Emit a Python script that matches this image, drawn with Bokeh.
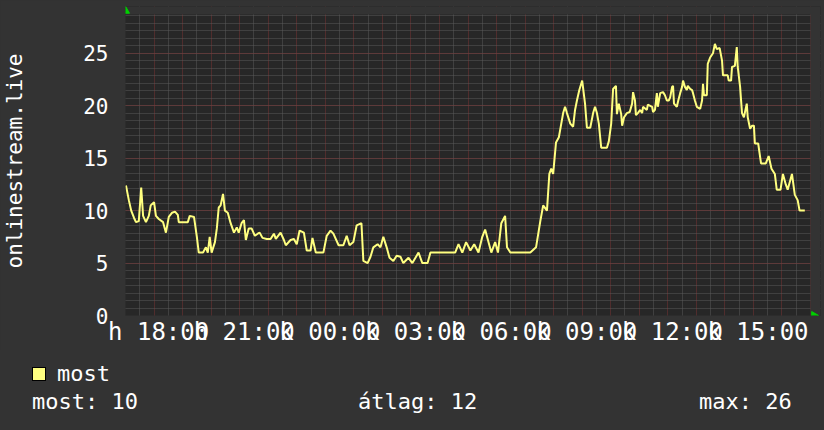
import math
from bokeh.plotting import figure
from bokeh.layouts import column
from bokeh.models import FixedTicker, Range1d, ColumnDataSource, Div
from bokeh.embed import file_html
from bokeh.resources import INLINE

# ---- data ----
start_hour = 17  # h 17:00
end_hour = 41    # k 17:00
minutes = [1,7,12,18,22,28,33,37,43,49,
           53,60,64,70,79,85,91,98,104,110,
           112,125,131,135,144,150,154,163,169,173,
           177,181,188,192,196,200,205,209,215,221,
           228,234,238,244,249,253,259,265,272,278,
           282,288,297,305,312,316,326,333,337,347,
           354,360,366,375,381,389,393,400,416,423,
           431,437,448,458,465,471,479,486,496,500,
           509,515,521,530,536,542,549,555,563,570,
           578,584,595,603,616,624,635,641,662,683,
           693,700,708,716,725,733,742,750,756,763,
           769,777,783,790,798,802,809,830,851,863,
           872,878,886,891,895,899,905,911,920,924,
           928,935,941,945,949,954,960,966,970,977,
           983,987,991,995,1000,1012,1016,1021,1025,1031,
           1033,1037,1042,1044,1048,1054,1060,1065,1067,1071,
           1073,1077,1082,1086,1088,1096,1098,1107,1109,1113,
           1117,1119,1124,1130,1134,1138,1142,1145,1149,1151,
           1153,1159,1162,1166,1170,1172,1176,1180,1182,1187,
           1191,1193,1197,1201,1208,1212,1214,1216,1222,1224,
           1229,1235,1239,1243,1249,1254,1256,1266,1268,1273,
           1275,1281,1285,1287,1292,1296,1300,1306,1308,1313,
           1317,1321,1323,1330,1336,1346,1352,1358,1365,1369,
           1377,1382,1388,1392,1401,1407,1413,1417,1428]
most = [12.4,11.0,10.0,9.3,8.9,9.0,12.2,9.5,8.9,9.5,
        10.5,10.8,9.5,9.2,8.9,7.9,9.4,9.8,9.9,9.6,
        8.9,8.9,8.9,9.5,9.4,7.5,6.0,6.0,6.5,6.0,
        7.5,6.0,7.0,8.3,10.3,10.5,11.6,10.0,9.8,8.8,
        7.9,8.4,7.9,8.8,9.1,7.2,8.3,8.3,7.6,7.8,
        7.9,7.4,7.3,7.3,7.8,7.3,7.9,7.2,6.7,7.2,
        7.3,6.8,8.1,7.9,6.2,6.2,7.4,6.0,6.0,7.6,
        8.1,7.8,6.7,6.7,7.6,6.7,7.0,8.6,8.8,5.2,
        5.0,5.6,6.5,6.8,6.5,7.5,6.5,5.5,5.2,5.7,
        5.6,5.0,5.5,5.0,6.0,5.0,5.0,6.0,6.0,6.0,
        6.0,6.8,6.0,7.0,6.2,6.8,6.0,7.5,8.2,7.0,
        6.0,7.0,6.0,8.8,9.5,6.5,6.0,6.0,6.0,6.5,
        9.0,10.5,10.0,13.5,14.0,13.5,16.5,17.0,19.3,19.9,
        19.3,18.3,18.0,19.6,20.5,21.5,22.4,20.2,17.9,17.9,
        19.3,19.9,19.3,18.3,16.0,16.0,16.6,18.3,21.6,21.9,
        19.2,20.2,19.2,18.1,18.9,19.3,19.4,20.2,21.3,20.5,
        19.1,19.3,19.6,19.3,19.9,19.6,20.1,19.9,19.4,19.6,
        21.2,19.9,21.2,21.3,21.0,20.5,20.5,20.8,21.8,21.9,
        20.2,19.9,20.5,21.2,21.8,22.4,21.8,21.5,21.9,21.6,
        21.5,21.2,20.5,19.9,19.7,20.5,22.1,21.0,21.0,24.0,
        24.6,25.0,25.9,25.4,25.5,24.3,22.9,22.9,22.4,22.4,
        23.7,23.8,25.6,23.7,21.8,19.3,18.9,20.2,18.9,17.8,
        18.1,18.1,16.4,16.4,14.5,14.5,15.2,14.0,13.5,12.0,
        12.0,13.5,12.5,12.0,13.5,11.5,11.0,10.0,10.0]

x_tick_hours = [18, 21, 24, 27, 30, 33, 36, 39]
x_tick_labels = ["h 18:00", "h 21:00", "k 00:00", "k 03:00",
                 "k 06:00", "k 09:00", "k 12:00", "k 15:00"]
y_ticks = [0, 5, 10, 15, 20, 25]
y_top = 28.7
y_title = "onlinestream.live"
series_name = "most"
legend_stats = [("most", "10"), ("átlag", "12"), ("max", "26")]

# ---- styling ----
BG = "#333333"
PLOT_BG = "#272727"
LINE = "#ffff80"
MINOR = "#5a5a5a"
MAJOR = "#7a3434"
ARROW = "#00d000"
FONT = "DejaVu Sans Mono"

W = 824
H_MAIN, H_LEG = 350, 80
LEFT, TOP = 124, 6
PLOT_W, PLOT_H = 686, 301   # px of the graph area
PAD_TOP, PAD_RIGHT = 8, 10  # extra frame room for the axis arrows

x_end = end_hour + (end_hour - start_hour) * PAD_RIGHT / PLOT_W
y_end = y_top * (PLOT_H + PAD_TOP) / PLOT_H

hours = [start_hour + m / 60 for m in minutes]
src = ColumnDataSource(dict(x=hours, y=most))

p = figure(width=W, height=H_MAIN, x_range=Range1d(start_hour, x_end),
           y_range=Range1d(0, y_end), output_backend="svg", toolbar_location=None,
           styles={"background-color": BG})
p.min_border_left = LEFT
p.min_border_right = W - LEFT - PLOT_W - PAD_RIGHT
p.min_border_top = TOP
p.min_border_bottom = H_MAIN - TOP - PLOT_H - PAD_TOP
p.background_fill_color = PLOT_BG
p.border_fill_color = BG
p.outline_line_color = None

# grids
p.xgrid.ticker = FixedTicker(ticks=list(range(start_hour, end_hour + 1)),
                             minor_ticks=[h + 0.5 for h in range(start_hour, end_hour)])
p.xgrid.grid_line_color = MAJOR
p.xgrid.grid_line_dash = "1 1"
p.xgrid.minor_grid_line_color = MINOR
p.xgrid.minor_grid_line_dash = "1 1"
p.ygrid.ticker = FixedTicker(ticks=y_ticks,
                             minor_ticks=[i * 5 / 7 for i in range(41)])
p.ygrid.grid_line_color = MAJOR
p.ygrid.grid_line_dash = "1 1"
p.ygrid.minor_grid_line_color = MINOR
p.ygrid.minor_grid_line_dash = "1 1"

# axes
label_shift = 0.16  # rrdtool labels sit a little right of their hour line
xa = p.xaxis[0]
xa.ticker = FixedTicker(ticks=[h + label_shift for h in x_tick_hours])
xa.major_label_overrides = {h + label_shift: s for h, s in zip(x_tick_hours, x_tick_labels)}
ya = p.yaxis[0]
ya.ticker = FixedTicker(ticks=y_ticks)
for ax in (xa, ya):
    ax.axis_line_color = None
    ax.major_tick_line_color = None
    ax.minor_tick_line_color = None
    ax.major_tick_out = 0
    ax.major_tick_in = 0
    ax.minor_tick_out = 0
    ax.minor_tick_in = 0
    ax.major_label_text_color = "white"
    ax.major_label_text_font = FONT
xa.major_label_text_font_size = "24px"
xa.major_label_standoff = 2
ya.major_label_text_font_size = "21px"
ya.major_label_standoff = 17
ya.axis_label = y_title
ya.axis_label_text_font = FONT
ya.axis_label_text_font_size = "21px"
ya.axis_label_text_font_style = "normal"
ya.axis_label_text_color = "white"
ya.axis_label_standoff = 53

# mask the arrow room outside the graph area
p.quad(left=[start_hour, end_hour], right=[x_end, x_end], bottom=[y_top, 0],
       top=[y_end, y_end], fill_color=BG, line_color=None)

p.line("x", "y", source=src, line_color=LINE, line_width=2)

# axis end arrows
p.scatter(x=[start_hour], y=[y_top + (y_end - y_top) * 0.45], marker="triangle",
          size=8, fill_color=ARROW, line_color=ARROW)
p.scatter(x=[end_hour + (x_end - end_hour) * 0.35], y=[0], marker="triangle",
          angle=-math.pi / 2, size=8, fill_color=ARROW, line_color=ARROW)

# ---- legend rows below the graph ----
txt = f"position:absolute;font-family:'{FONT}';font-size:22px;line-height:24px;color:white;white-space:pre;"
stat_left = [32, 358, 699]
stats_html = "".join(
    f'<span style="{txt}left:{x}px;top:40px;">{n}: {v}</span>'
    for (n, v), x in zip(legend_stats, stat_left))
html = (
    f'<div style="position:relative;width:{W}px;height:{H_LEG}px;background:{BG};margin:0;">'
    f'<span style="position:absolute;left:32px;top:17px;width:14px;height:14px;'
    f'box-sizing:border-box;background:{LINE};border:1px solid black;"></span>'
    f'<span style="{txt}left:57px;top:12px;">{series_name}</span>'
    f'{stats_html}</div>'
)
legend_div = Div(text=html, width=W, height=H_LEG, margin=0,
                 styles={"background-color": BG})

layout = column(p, legend_div, spacing=0, styles={"background-color": BG})
open("out.html", "w").write(file_html(layout, INLINE))
